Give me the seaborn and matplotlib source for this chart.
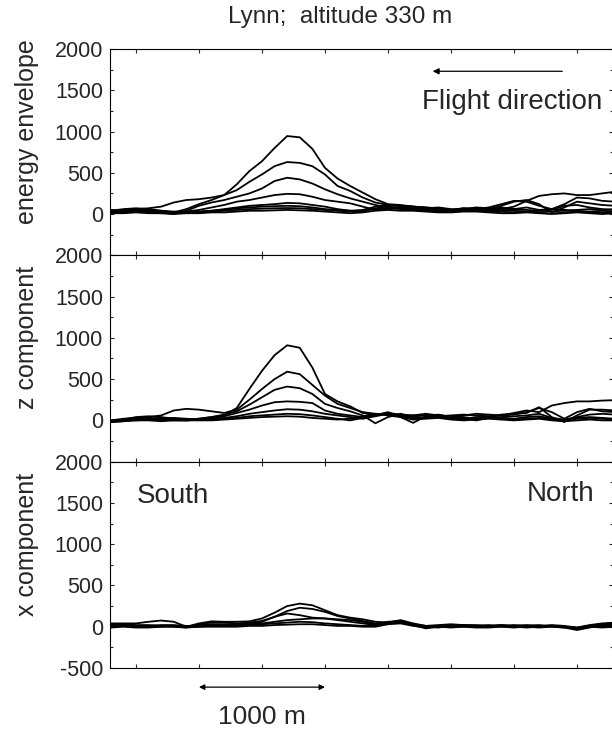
import matplotlib
matplotlib.use("Agg")
import matplotlib.pyplot as plt
import seaborn as sns
import pandas as pd
from matplotlib.ticker import MultipleLocator

# distance along the flight line, m
dist = [-200, -100, 0, 100, 200, 300, 400, 500, 600, 700, 800, 900, 1000, 1100, 1200,
        1300, 1400, 1500, 1600, 1700, 1800, 1900, 2000, 2100, 2200, 2300, 2400, 2500,
        2600, 2700, 2800, 2900, 3000, 3100, 3200, 3300, 3400, 3500, 3600, 3700, 3800]

energy_curves = [
    [40, 60, 70, 60, 40, 20, 60, 120, 170, 230, 360, 520, 640, 800, 945, 930, 790, 560, 430, 340,
     260, 180, 120, 110, 90, 80, 60, 50, 70, 60, 50, 80, 60, 80, 50, 60, 40, 50, 60, 50, 60],
    [30, 50, 60, 70, 90, 140, 170, 180, 200, 230, 290, 390, 480, 580, 630, 620, 580, 480, 340, 280,
     200, 140, 110, 100, 90, 70, 80, 60, 50, 60, 80, 120, 160, 150, 100, 60, 120, 200, 190, 160, 150],
    [50, 40, 50, 40, 20, 0, 40, 100, 140, 170, 210, 250, 310, 400, 440, 420, 370, 300, 240, 190,
     150, 110, 80, 70, 60, 60, 40, 30, 40, 50, 40, 60, 90, 160, 220, 240, 250, 230, 230, 250, 270],
    [20, 30, 40, 50, 40, 30, 30, 50, 80, 110, 150, 170, 200, 230, 245, 240, 210, 170, 150, 130,
     90, 50, 60, 80, 70, 70, 50, 40, 60, 70, 60, 100, 150, 170, 120, 20, 80, 150, 130, 110, 100],
    [30, 50, 40, 30, 20, 20, 30, 30, 40, 60, 80, 100, 110, 120, 135, 130, 110, 90, 60, 40,
     50, 90, 110, 100, 90, 80, 70, 50, 60, 80, 70, 60, 60, 50, 40, 50, 100, 110, 80, 60, 50],
    [40, 30, 30, 40, 30, 20, 20, 30, 40, 50, 70, 80, 90, 95, 100, 95, 80, 60, 50, 40,
     30, 70, 90, 80, 70, 50, 40, 50, 70, 60, 40, 50, 40, 30, 40, 60, 50, 40, 30, 40, 30],
    [20, 20, 30, 20, 10, 10, 20, 20, 30, 40, 50, 60, 65, 70, 73, 70, 60, 50, 40, 30,
     40, 60, 70, 60, 50, 40, 30, 30, 40, 50, 30, 30, 20, 30, 20, 30, 20, 30, 20, 20, 10],
    [10, 10, 20, 10, 10, 0, 10, 10, 20, 20, 30, 40, 40, 45, 50, 45, 40, 30, 20, 10,
     20, 40, 50, 40, 40, 30, 20, 20, 30, 30, 20, 10, 10, 20, 10, 0, 10, 20, 10, 0, 10],
]

z_curves = [
    [-10, 10, 40, 50, 40, 20, 10, 20, 40, 60, 150, 380, 600, 790, 910, 880, 640, 320, 230, 170,
     90, 70, 90, 70, 60, 60, 50, 60, 70, 60, 50, 60, 70, 100, 150, 100, 20, 100, 140, 110, 100],
    [0, 20, 30, 40, 60, 120, 140, 130, 110, 90, 130, 250, 380, 500, 590, 560, 430, 300, 200, 150,
     100, 80, 70, 60, 60, 80, 60, 50, 60, 80, 70, 60, 90, 120, 100, 180, 210, 230, 230, 240, 245],
    [-20, -10, 10, 20, 30, 20, 10, 20, 40, 70, 110, 190, 280, 370, 410, 390, 320, 200, 150, 110,
     60, -35, 40, 80, 40, 70, 60, 50, 40, 20, 40, 70, 80, 90, 160, 40, -20, 60, 130, 130, 120],
    [0, 0, 20, 30, 10, 0, 0, 10, 30, 50, 90, 130, 180, 220, 230, 225, 210, 120, 80, 60,
     40, 60, 100, 40, -30, 50, 70, 40, 30, 0, 30, 40, 50, 60, 80, 30, 10, 40, 70, 80, 70],
    [-10, 0, 10, 10, 20, 30, 20, 10, 20, 30, 50, 80, 100, 120, 135, 130, 110, 80, 60, 40,
     20, 50, 80, 60, 30, 40, 60, 30, 20, 40, 50, 30, 20, 40, 50, 20, 0, 30, 40, 30, 20],
    [-20, -10, 0, 10, 0, 10, 0, 10, 10, 20, 30, 50, 60, 70, 80, 75, 60, 40, 20, 0,
     30, 70, 80, 50, 20, 30, 40, 20, 10, 20, 40, 20, 10, 20, 30, 10, -10, 20, 30, 20, 10],
    [-10, 0, 0, 0, -10, 0, 0, 0, 0, 10, 20, 30, 40, 45, 50, 45, 30, 20, 10, 20,
     50, 80, 60, 40, 10, 20, 30, 10, 0, 10, 20, 10, 0, 10, 20, 0, -10, 0, 10, 0, 0],
]

x_curves = [
    [40, 40, 40, 60, 75, 60, 0, 40, 65, 60, 60, 65, 100, 170, 250, 280, 260, 200, 140, 110,
     90, 60, 50, 80, 40, 10, 20, 30, 20, 20, 10, 20, 10, 20, 10, 20, 10, -10, 20, 40, 50],
    [30, 30, 20, 20, 10, 0, -10, 30, 50, 50, 40, 50, 70, 120, 190, 230, 215, 180, 130, 100,
     70, 40, 60, 70, 30, 0, -10, 10, 20, 10, 0, 10, 20, 10, 0, 10, 0, -30, 0, 30, 40],
    [20, 10, 10, 0, 0, 10, 0, 20, 30, 30, 30, 40, 60, 120, 160, 140, 110, 100, 90, 80,
     60, 30, 40, 60, 20, -20, 0, 20, 10, 0, 10, 20, 0, 10, 20, 0, -10, -40, -10, 20, 30],
    [10, 20, 10, 10, 20, 20, 10, 10, 20, 20, 20, 30, 40, 60, 80, 90, 100, 100, 80, 60,
     40, 20, 50, 70, 30, 10, 0, 10, 0, 10, 20, 0, 10, 0, 10, 10, 0, -20, 0, 10, 20],
    [0, 10, 0, 0, 10, 10, 0, 0, 10, 10, 10, 20, 30, 40, 50, 60, 55, 40, 30, 20,
     10, 10, 40, 50, 20, 0, 10, 0, 10, 0, 0, 10, 0, -10, 0, 10, 0, -10, 10, 0, 10],
    [-10, 0, -10, -10, 0, 0, -10, 0, 0, 0, 0, 10, 10, 20, 25, 30, 30, 20, 10, 10,
     0, 0, 30, 40, 10, -10, 0, -10, 0, -10, -10, 0, -10, 0, -10, 0, -10, -20, 0, -10, 0],
]

panel_labels = ["energy envelope", "z component", "x component"]
panel_curves = [energy_curves, z_curves, x_curves]

sns.set_style("ticks")
plt.rcParams["font.family"] = ["Liberation Sans", "DejaVu Sans"]
plt.rcParams["axes.unicode_minus"] = False

fig, axes = plt.subplots(3, 1, sharex=True, figsize=(6.12, 7.29), dpi=100,
                         gridspec_kw=dict(hspace=0))
fig.subplots_adjust(left=110 / 612, right=613 / 612, bottom=0.0837, top=0.9328)

for i, (ax, label, curves) in enumerate(zip(axes, panel_labels, panel_curves)):
    rows = []
    for k, c in enumerate(curves):
        for d, v in zip(dist, c):
            rows.append({"dist": d, "val": v, "curve": k})
    df = pd.DataFrame(rows)
    sns.lineplot(data=df, x="dist", y="val", units="curve", estimator=None,
                 color="black", lw=1.3, ax=ax, legend=False)

    ax.set_xlim(-206, 3786)
    ax.set_ylim(-500, 2000)
    if i < 2:
        ax.set_yticks([0, 500, 1000, 1500, 2000])
    else:
        ax.set_yticks([-500, 0, 500, 1000, 1500, 2000])
    ax.yaxis.set_minor_locator(MultipleLocator(250))
    ax.xaxis.set_major_locator(MultipleLocator(500))
    ax.tick_params(which="both", direction="in", top=True, right=True,
                   width=0.8, labelbottom=False, labelsize=15.5, pad=5)
    ax.tick_params(which="major", length=3)
    ax.tick_params(which="minor", length=2)
    ax.tick_params(axis="x", which="minor", length=0)
    for sp in ax.spines.values():
        sp.set_linewidth(0.8)
        sp.set_color("black")
    ax.set_xlabel("")
    ax.set_ylabel(label, fontsize=18, va="center")
    ax.yaxis.set_label_coords(-0.165, 0.6)

fig.text(0.555, 0.977, "Lynn;  altitude 330 m", ha="center", va="center", fontsize=17.5)

ax1 = axes[0]
ax1.annotate("", xy=(2333, 1730), xytext=(3405, 1730),
             arrowprops=dict(arrowstyle="-|>", color="black", lw=0.9, mutation_scale=9))
ax1.text(3698, 1354, "Flight direction", ha="right", va="center", fontsize=20)

ax3 = axes[2]
ax3.text(8, 1585, "South", ha="left", va="center", fontsize=20)
ax3.text(3635, 1610, "North", ha="right", va="center", fontsize=20)
ax3.annotate("", xy=(500, -732), xytext=(1500, -732), annotation_clip=False,
             arrowprops=dict(arrowstyle="<|-|>", color="black", lw=0.9,
                             mutation_scale=8, shrinkA=0, shrinkB=0))
ax3.text(1000, -1098, "1000 m", ha="center", va="center", fontsize=19, clip_on=False)

fig.savefig("out.png", dpi=100)
